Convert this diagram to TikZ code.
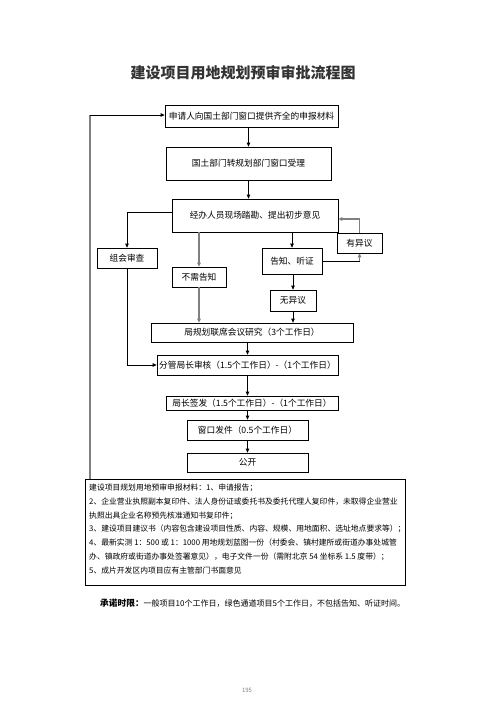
\documentclass[tikz,border=0pt]{standalone}
\usepackage{fontspec}
\setmainfont{Noto Sans CJK SC}
\usetikzlibrary{arrows.meta}
\definecolor{lgray}{HTML}{808080}
\definecolor{tgray}{HTML}{333333}
\begin{document}
\begin{tikzpicture}[x=1pt,y=-1pt,
  box/.style={draw=black,line width=0.8pt,inner sep=0pt,font=\fontsize{8.7}{10}\selectfont},
  arr/.style={line width=0.8pt,-{Triangle[length=4pt,width=3.6pt]}},
  garr/.style={draw=lgray,line width=1.4pt,-{Triangle[length=4pt,width=3.6pt]},shorten >=0pt},
  ln/.style={line width=0.8pt},
  gln/.style={draw=lgray,line width=1.4pt}]
\useasboundingbox[fill=white] (0,0) rectangle (496,702);

\node[font=\fontsize{15}{17}\selectfont\bfseries,text=tgray] (title) at (243,73) {建设项目用地规划预审审批流程图};

\node[box,minimum width=173pt,minimum height=22pt] (b1) at (251.5,116) {申请人向国土部门窗口提供齐全的申报材料};
\node[box,minimum width=165pt,minimum height=33pt] (b2) at (248.5,163.5) {国土部门转规划部门窗口受理};
\node[box,minimum width=166pt,minimum height=33pt] (b3) at (255,215.5) {经办人员现场踏勘、提出初步意见};
\node[box,minimum width=45pt,minimum height=20pt] (yy) at (359.5,243) {有异议};
\node[box,minimum width=60pt,minimum height=20pt] (zh) at (127,258) {组会审查};
\node[box,minimum width=54pt,minimum height=20pt] (bx) at (199,277) {不需告知};
\node[box,minimum width=60pt,minimum height=26pt] (gz) at (292,261) {告知、听证};
\node[box,minimum width=46pt,minimum height=21pt] (wy) at (293,300.5) {无异议};
\node[box,minimum width=202pt,minimum height=19pt] (jg) at (252,332.5) {局规划联席会议研究（3个工作日）};
\node[box,minimum width=181pt,minimum height=20pt] (fg) at (247.5,365) {分管局长审核（1.5个工作日）-（1个工作日）};
\node[box,minimum width=172pt,minimum height=14pt] (jz) at (252,403) {局长签发（1.5个工作日）-（1个工作日）};
\node[box,minimum width=121pt,minimum height=20pt] (ck) at (247.5,430) {窗口发件（0.5个工作日）};
\node[box,minimum width=121pt,minimum height=19pt] (gk) at (247.5,462.5) {公开};

\node[draw=black,line width=0.8pt,minimum width=320pt,minimum height=106pt,inner sep=0pt] (mat) at (245,532) {};
\node[anchor=north west,align=left,inner sep=0pt,font=\fontsize{7.8}{13.7}\selectfont] (mattext) at (89,484) {建设项目规划用地预审申报材料：1、申请报告；\\
2、企业营业执照副本复印件、法人身份证或委托书及委托代理人复印件，未取得企业营业\\
执照出具企业名称预先核准通知书复印件；\\
3、建设项目建议书（内容包含建设项目性质、内容、规模、用地面积、选址地点要求等）；\\
4、最新实测 1：500 或 1：1000 用地规划蓝图一份（村委会、镇村建所或街道办事处城管\\
办、镇政府或街道办事处签署意见），电子文件一份（需附北京 54 坐标系 1.5 度带）；\\
5、成片开发区内项目应有主管部门书面意见};

\node[anchor=west,inner sep=0pt,font=\fontsize{8}{9}\selectfont] (note) at (100,603) {{\fontsize{8.7}{9}\selectfont\bfseries 承诺时限：}一般项目10个工作日，绿色通道项目5个工作日，不包括告知、听证时间。};
\node[font=\fontsize{6}{7}\selectfont,text=lgray] (pg) at (247,690) {195};

% main vertical flow
\draw[arr] (b2.north |- b1.south) -- (b2.north);
\draw[arr] (b2.south) -- (b2.south |- b3.north);
\draw[arr] (gz.north |- b3.south) -- (gz.north);
\draw[garr] (bx.north |- b3.south) -- (bx.north);
\draw[arr] (b3.west |- 0,212) -| (zh.north);
\draw[arr] (gz.south) -- (gz.south -| wy.north) -- (wy.north);
\draw[arr] (wy.south) -- (wy.south |- jg.north);
\draw[garr] (bx.south) -- (bx.south |- jg.north);
\draw[arr] (fg.north |- jg.south) -- (fg.north);
\draw[arr] (zh.south) |- (fg.west);
\draw[arr] (fg.south) -- (fg.south |- jz.north);
\draw[arr] (ck.north |- jz.south) -- (ck.north);
\draw[arr] (ck.south) -- (gk.north);
% loop via 有异议
\draw[ln] (gz.east) -- (gz.east -| yy.south);
\draw[garr] (gz.east -| yy.south) -- (yy.south);
\draw[garr] (yy.north) -- (yy.north |- 0,219) -- (b3.east |- 0,219);
% feedback line on the left
\coordinate (fbtop) at (90,115);
\draw[gln] (mat.north -| fbtop) -- (fbtop);
\draw[arr] (fbtop) -- (b1.west |- fbtop);
\end{tikzpicture}
\end{document}
